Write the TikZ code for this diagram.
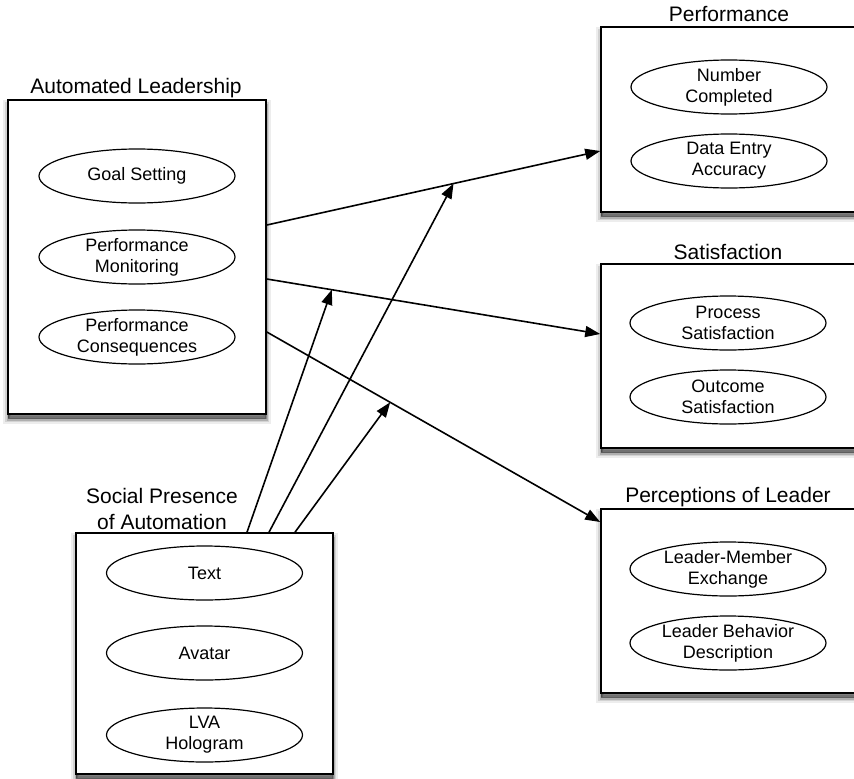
\documentclass[tikz,border=0pt]{standalone}
\usepackage{fontspec}
\setmainfont{Liberation Sans}
\usetikzlibrary{arrows.meta,calc,shapes.geometric}

\tikzset{
  % soft drop shadow built from stacked translucent halos
  softshadow/.style={
    preaction={draw=black, fill=black, line width=10pt, opacity=0.07, transform canvas={yshift=-5pt}},
    preaction={draw=black, fill=black, line width=6pt, opacity=0.11, transform canvas={yshift=-5pt}},
    preaction={draw=black, fill=black, line width=3pt, opacity=0.17, transform canvas={yshift=-5pt}},
    preaction={draw=black, fill=black, line width=1pt, opacity=0.22, transform canvas={yshift=-4pt}}},
  group/.style={softshadow, draw=black, line width=1.6pt, fill=white, rectangle},
  item/.style={draw=black, line width=1.2pt, ellipse, minimum width=196pt, minimum height=54pt,
    inner sep=0pt, align=center, font=\fontsize{18}{21}\selectfont},
  heading/.style={align=center, font=\fontsize{21}{26}\selectfont, inner sep=0pt},
  link/.style={line width=1.6pt, -{Triangle[length=15pt,width=11pt]}}
}

\begin{document}
\begin{tikzpicture}[x=1pt, y=-1pt]
\useasboundingbox (0,0) rectangle (854,779);

% group boxes
\node[group, minimum width=258pt, minimum height=314pt] (al)   at (137,257) {};
\node[group, minimum width=259pt, minimum height=185pt] (perf) at (730.5,119.5) {};
\node[group, minimum width=259pt, minimum height=184pt] (sat)  at (730.5,356) {};
\node[group, minimum width=259pt, minimum height=184pt] (pol)  at (730.5,601) {};
\node[group, minimum width=257pt, minimum height=241pt] (sp)   at (204.5,653.5) {};

% headings
\node[heading] (t-al)   at (136,88)  {Automated Leadership};
\node[heading] (t-perf) at (729,14)  {Performance};
\node[heading] (t-sat)  at (728,252) {Satisfaction};
\node[heading] (t-pol)  at (728,497) {Perceptions of Leader};
\node[heading] (t-sp)   at (162,509) {Social Presence\\of Automation};

% automated leadership
\node[item] (goal) at (137,176) {Goal Setting};
\node[item] (mon)  at (137,257) {Performance\\Monitoring};
\node[item] (cons) at (137,337) {Performance\\Consequences};

% performance
\node[item] (num)  at (729,87)  {Number\\Completed};
\node[item] (acc)  at (729,161) {Data Entry\\Accuracy};

% satisfaction
\node[item] (proc) at (728,323) {Process\\Satisfaction};
\node[item] (outc) at (728,397) {Outcome\\Satisfaction};

% perceptions of leader
\node[item] (lmx)  at (728,569) {Leader-Member\\Exchange};
\node[item] (lbd)  at (728,643) {Leader Behavior\\Description};

% social presence
\node[item] (txt)  at (204.5,573) {Text};
\node[item] (ava)  at (204.5,653) {Avatar};
\node[item] (lva)  at (204.5,735) {LVA\\Hologram};

% end points of the links on the box edges
\coordinate (a1s) at (al.east |- 0,225);
\coordinate (a1e) at (perf.west |- 0,151);
\coordinate (a2s) at (al.east |- 0,279);
\coordinate (a2e) at (sat.west |- 0,334);
\coordinate (a3s) at (al.east |- 0,332);
\coordinate (a3e) at (pol.west |- 0,522);
\coordinate (b1s) at (sp.north -| 247,0);
\coordinate (b2s) at (sp.north -| 269,0);
\coordinate (b3s) at (sp.north -| 295,0);

% main effects
\draw[link] (a1s) -- (a1e);
\draw[link] (a2s) -- (a2e);
\draw[link] (a3s) -- (a3e);

% moderating effects onto the main links
\draw[link] (b1s) -- ($(a2s)!0.195!(a2e)$);
\draw[link] (b2s) -- ($(a1s)!0.56!(a1e)$);
\draw[link] (b3s) -- ($(a3s)!0.37!(a3e)$);
\end{tikzpicture}
\end{document}
